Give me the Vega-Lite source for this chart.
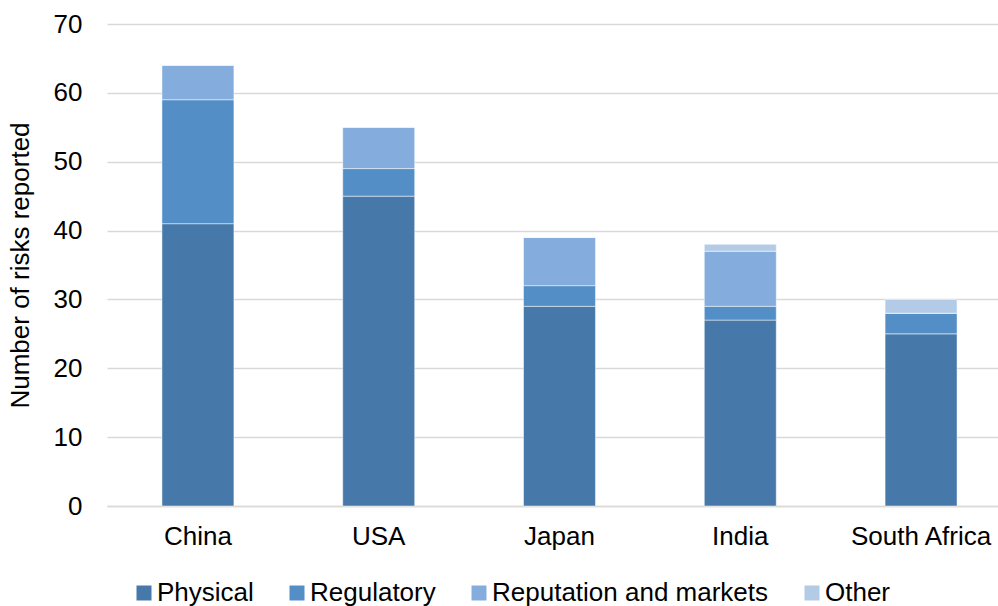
{
  "$schema": "https://vega.github.io/schema/vega-lite/v6.json",
  "width": 891,
  "height": 482,
  "autosize": {"type": "none"},
  "padding": {"left": 107, "top": 24, "right": 0, "bottom": 100},
  "background": "white",
  "config": {
    "font": "Liberation Sans",
    "view": {"stroke": null}
  },
  "data": {
    "values": [
      {"country": "China", "type": "Physical", "k": 1, "n": 41},
      {"country": "China", "type": "Regulatory", "k": 2, "n": 18},
      {"country": "China", "type": "Reputation and markets", "k": 3, "n": 5},
      {"country": "China", "type": "Other", "k": 4, "n": 0},
      {"country": "USA", "type": "Physical", "k": 1, "n": 45},
      {"country": "USA", "type": "Regulatory", "k": 2, "n": 4},
      {"country": "USA", "type": "Reputation and markets", "k": 3, "n": 6},
      {"country": "USA", "type": "Other", "k": 4, "n": 0},
      {"country": "Japan", "type": "Physical", "k": 1, "n": 29},
      {"country": "Japan", "type": "Regulatory", "k": 2, "n": 3},
      {"country": "Japan", "type": "Reputation and markets", "k": 3, "n": 7},
      {"country": "Japan", "type": "Other", "k": 4, "n": 0},
      {"country": "India", "type": "Physical", "k": 1, "n": 27},
      {"country": "India", "type": "Regulatory", "k": 2, "n": 2},
      {"country": "India", "type": "Reputation and markets", "k": 3, "n": 8},
      {"country": "India", "type": "Other", "k": 4, "n": 1},
      {"country": "South Africa", "type": "Physical", "k": 1, "n": 25},
      {"country": "South Africa", "type": "Regulatory", "k": 2, "n": 3},
      {"country": "South Africa", "type": "Reputation and markets", "k": 3, "n": 0},
      {"country": "South Africa", "type": "Other", "k": 4, "n": 2}
    ]
  },
  "mark": {"type": "bar", "stroke": "white", "strokeWidth": 0.8, "strokeOpacity": 0.6},
  "encoding": {
    "x": {
      "field": "country",
      "type": "nominal",
      "sort": ["China", "USA", "Japan", "India", "South Africa"],
      "scale": {"range": [0, 905], "paddingInner": 0.602, "paddingOuter": 0.304},
      "axis": {
        "title": null,
        "labelAngle": 0,
        "labelFontSize": 26,
        "labelColor": "#000000",
        "labelPadding": 17,
        "ticks": false,
        "domainColor": "#d9d9d9",
        "domainWidth": 1.5
      }
    },
    "y": {
      "field": "n",
      "type": "quantitative",
      "stack": "zero",
      "scale": {"domain": [0, 70]},
      "axis": {
        "title": "Number of risks reported",
        "titleFontSize": 26,
        "titleFontWeight": "normal",
        "titleColor": "#000000",
        "titlePadding": 20,
        "values": [0, 10, 20, 30, 40, 50, 60, 70],
        "labelFontSize": 26,
        "labelColor": "#000000",
        "labelPadding": 25,
        "ticks": false,
        "domain": false,
        "gridColor": "#d9d9d9",
        "gridWidth": 1.5
      }
    },
    "color": {
      "field": "type",
      "type": "nominal",
      "sort": ["Physical", "Regulatory", "Reputation and markets", "Other"],
      "scale": {
        "domain": ["Physical", "Regulatory", "Reputation and markets", "Other"],
        "range": ["#4679a9", "#538ec6", "#84acdc", "#b3cbe7"]
      },
      "legend": {
        "title": null,
        "orient": "none",
        "legendX": 24,
        "legendY": 556,
        "direction": "horizontal",
        "labelFontSize": 26,
        "labelColor": "#000000",
        "labelLimit": 600,
        "symbolType": "square",
        "symbolSize": 225,
        "symbolStrokeWidth": 0,
        "columnPadding": 30,
        "labelOffset": 0
      }
    },
    "order": {"field": "k", "type": "quantitative"}
  }
}
